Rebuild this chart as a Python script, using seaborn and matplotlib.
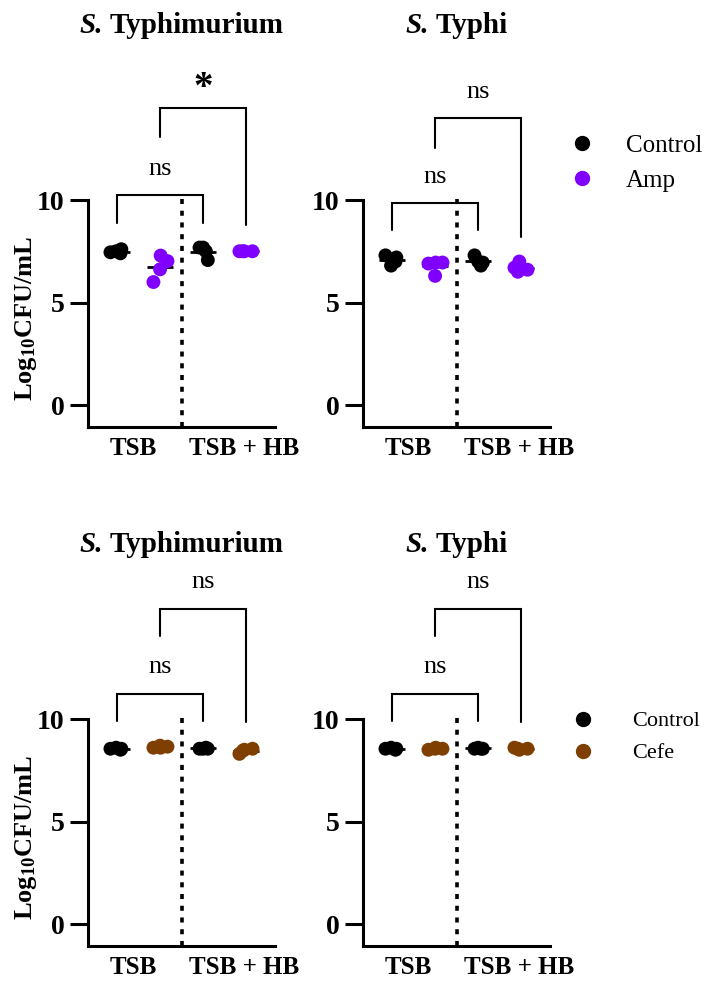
import numpy as np
import pandas as pd
import seaborn as sns
import matplotlib.pyplot as plt
from matplotlib.lines import Line2D

# Datos: Log10 CFU/mL
condiciones = ['TSB', 'TSB + HB']
trat_amp = ['Control', 'Amp']
trat_cefe = ['Control', 'Cefe']
especies = ['Typhimurium', 'Typhi']

# S. Typhimurium - Amp
tm_amp_tsb_control = [7.45, 7.6, 7.5, 7.4]
tm_amp_tsb_amp = [7.02, 7.29, 6.62, 6.0]
tm_amp_hb_control = [7.68, 7.68, 7.5, 7.07]
tm_amp_hb_amp = [7.5, 7.5, 7.5, 7.5]

# S. Typhi - Amp
ty_amp_tsb_control = [7.3, 7.2, 6.8, 7.0]
ty_amp_tsb_amp = [6.95, 6.95, 6.3, 6.9]
ty_amp_hb_control = [7.3, 7.0, 6.8, 6.95]
ty_amp_hb_amp = [7.0, 6.7, 6.5, 6.6]

# S. Typhimurium - Cefe
tm_cefe_tsb_control = [8.55, 8.55, 8.6, 8.5]
tm_cefe_tsb_cefe = [8.65, 8.6, 8.7, 8.6]
tm_cefe_hb_control = [8.55, 8.55, 8.6, 8.55]
tm_cefe_hb_cefe = [8.5, 8.3, 8.45, 8.55]

# S. Typhi - Cefe
ty_cefe_tsb_control = [8.55, 8.55, 8.6, 8.5]
ty_cefe_tsb_cefe = [8.55, 8.6, 8.55, 8.5]
ty_cefe_hb_control = [8.55, 8.6, 8.55, 8.55]
ty_cefe_hb_cefe = [8.5, 8.6, 8.55, 8.55]

# significancia: (comparacion TSB, comparacion TSB + HB)
sig_tm_amp = ['ns', '*']
sig_ty_amp = ['ns', 'ns']
sig_tm_cefe = ['ns', 'ns']
sig_ty_cefe = ['ns', 'ns']

color_amp = '#7F00FF'
color_cefe = '#7E3F00'

sns.set_style('ticks', {'axes.edgecolor': 'black', 'text.color': 'black',
                        'xtick.color': 'black', 'ytick.color': 'black',
                        'axes.labelcolor': 'black'})
plt.rcParams['font.family'] = ['Liberation Serif', 'DejaVu Serif']
plt.rcParams['mathtext.fontset'] = 'custom'
plt.rcParams['mathtext.rm'] = 'Liberation Serif:bold'
plt.rcParams['mathtext.it'] = 'Liberation Serif:bold:italic'
plt.rcParams['mathtext.bf'] = 'Liberation Serif:bold'

W, H = 712, 997
fig = plt.figure(figsize=(W / 100, H / 100), dpi=100)


def px_axes(left, top, right, bottom):
    return fig.add_axes([left / W, 1 - bottom / H, (right - left) / W, (bottom - top) / H])


def hacer_df(valores, tratamientos):
    filas = []
    claves = [(c, t) for c in condiciones for t in tratamientos]
    for (c, t), vals in zip(claves, valores):
        for v in vals:
            filas.append({'grupo': c + '|' + t, 'trat': t, 'log': v})
    return pd.DataFrame(filas), [c + '|' + t for c, t in claves]


def corchete(ax, x0, x1, arriba, pie_izq, pie_der, texto, y_texto, fs):
    ax.plot([x0, x0, x1, x1], [pie_izq, arriba, arriba, pie_der], color='black',
            lw=1.5, clip_on=False, solid_joinstyle='miter')
    ax.text((x0 + x1) / 2, y_texto, texto, ha='center', va='baseline', color='black',
            fontsize=fs, fontweight='bold' if texto == '*' else 'normal', clip_on=False)


def panel(ax, valores, tratamientos, color, sig, corchetes):
    df, orden = hacer_df(valores, tratamientos)
    pal = {tratamientos[0]: 'black', tratamientos[1]: color}
    np.random.seed(7)
    sns.stripplot(data=df, x='grupo', y='log', hue='trat', order=orden, palette=pal,
                  jitter=0.18, size=10, linewidth=0, legend=False, ax=ax, zorder=3)
    medias = df.groupby('grupo', sort=False)['log'].mean().reindex(orden)
    idx = np.arange(len(orden))
    ax.hlines(medias.values, idx - 0.3, idx + 0.3, color='black', lw=2, zorder=2)

    ax.set_xlim(-0.674, 3.67)
    ax.set_ylim(-1.07, 10)
    ax.set_yticks([0, 5, 10])
    ax.set_yticklabels(['0', '5', '10'], fontsize=20, fontweight='bold')
    ax.set_xticks([0.38, 2.95])
    ax.set_xticklabels(condiciones, fontsize=18, fontweight='bold')
    ax.tick_params(axis='x', length=0, pad=7)
    ax.tick_params(axis='y', length=13, width=2.2, pad=4)
    ax.set_xlabel('')
    ax.set_ylabel('')
    sns.despine(ax=ax)
    for s in ['left', 'bottom']:
        ax.spines[s].set_linewidth(2.2)

    ax.plot([1.5, 1.5], [-1.07, 10.1], color='black', lw=2.6, ls=(0, (1.4, 1.85)),
            clip_on=False, zorder=1)

    (a1, b1, c1, t1), (a2, b2, c2, t2) = corchetes
    corchete(ax, 0, 2, a1, b1, b1, sig[0], t1, 19)
    corchete(ax, 1, 3, a2, b2, c2, sig[1], t2, 28 if sig[1] == '*' else 19)


def titulo(ax, especie, y_px):
    bb = ax.get_position()
    xc = (bb.x0 + bb.x1) / 2 * W
    yf = 1 - y_px / H
    t1 = fig.text(xc / W, yf, 'S.', fontsize=21, fontweight='bold', fontstyle='italic',
                  ha='left', va='baseline')
    t2 = fig.text(xc / W, yf, especie, fontsize=21, fontweight='bold', ha='left', va='baseline')
    fig.canvas.draw()
    r = fig.canvas.get_renderer()
    w1 = t1.get_window_extent(r).width
    w2 = t2.get_window_extent(r).width
    hueco = 0.25 * 21 * 100 / 72
    x0 = xc - (w1 + hueco + w2) / 2
    t1.set_x(x0 / W)
    t2.set_x((x0 + w1 + hueco) / W)


ax1 = px_axes(88, 200, 275, 427)
ax2 = px_axes(363, 200, 550, 427)
ax3 = px_axes(88, 719, 275, 946)
ax4 = px_axes(363, 719, 550, 946)

# corchetes: (arriba, pie izq, pie der, y texto) en unidades del eje
panel(ax1, [tm_amp_tsb_control, tm_amp_tsb_amp, tm_amp_hb_control, tm_amp_hb_amp],
      trat_amp, color_amp, sig_tm_amp,
      [(10.24, 8.88, 8.88, 11.22), (14.5, 13.07, 8.78, 14.95)])
panel(ax2, [ty_amp_tsb_control, ty_amp_tsb_amp, ty_amp_hb_control, ty_amp_hb_amp],
      trat_amp, color_amp, sig_ty_amp,
      [(9.87, 8.54, 8.54, 10.83), (14.0, 12.54, 8.2, 14.98)])
panel(ax3, [tm_cefe_tsb_control, tm_cefe_tsb_cefe, tm_cefe_hb_control, tm_cefe_hb_cefe],
      trat_cefe, color_cefe, sig_tm_cefe,
      [(11.22, 9.9, 9.9, 12.24), (15.37, 14.05, 9.85, 16.39)])
panel(ax4, [ty_cefe_tsb_control, ty_cefe_tsb_cefe, ty_cefe_hb_control, ty_cefe_hb_cefe],
      trat_cefe, color_cefe, sig_ty_cefe,
      [(11.22, 9.9, 9.9, 12.24), (15.37, 14.05, 9.85, 16.39)])

titulo(ax1, especies[0], 33)
titulo(ax2, especies[1], 33)
titulo(ax3, especies[0], 552)
titulo(ax4, especies[1], 552)

for y_c in [318, 837]:
    fig.text(26 / W, 1 - y_c / H, r'Log$_{10}$CFU/mL', rotation=90, fontsize=19,
             fontweight='bold', ha='center', va='center')

# leyendas
for (lab, col, y), (xm, xt, fs) in [((trat_amp[0], 'black', 143), (582, 626, 18)),
                                     ((trat_amp[1], color_amp, 178), (582, 626, 18)),
                                     ((trat_cefe[0], 'black', 719), (583, 632, 16)),
                                     ((trat_cefe[1], color_cefe, 751), (583, 632, 16))]:
    fig.add_artist(Line2D([xm / W], [1 - y / H], marker='o', ms=10, color=col,
                          linestyle='none', transform=fig.transFigure))
    fig.text(xt / W, 1 - y / H, lab, fontsize=fs, ha='left', va='center_baseline')

fig.savefig('out.png', dpi=100)
